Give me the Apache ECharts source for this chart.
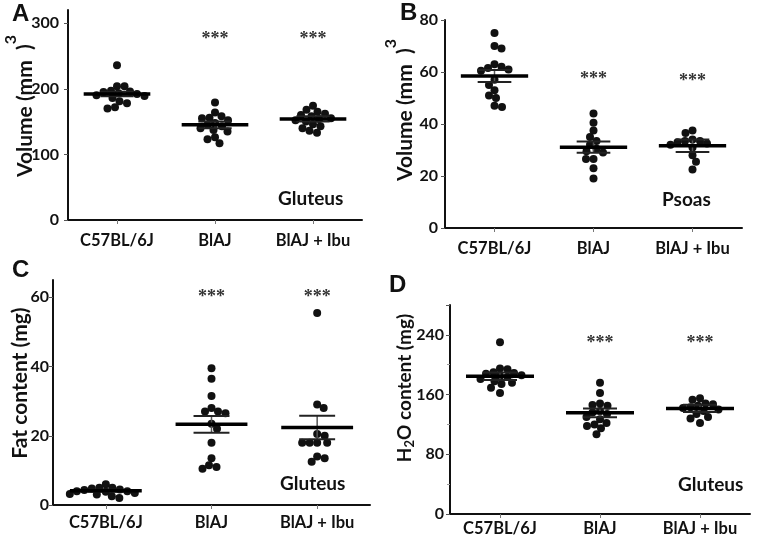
<!DOCTYPE html>
<html><head><meta charset="utf-8">
<script src="https://cdn.jsdelivr.net/npm/echarts@6/dist/echarts.min.js"></script>
<style>html,body{margin:0;padding:0;background:#fff}#c{width:764px;height:537px}</style>
</head><body><div id="c"></div>
<script>
// ---------- DATA ----------
const categories = ['C57BL/6J', 'BlAJ', 'BlAJ + Ibu'];

// Panel A: Gluteus volume (mm3)
const gluteusVolC57 = [236, 204, 204, 197, 196, 195, 193, 192, 190, 189, 186, 181, 178, 172, 170];
const gluteusVolBlAJ = [179, 164, 158, 156, 155, 152, 148, 145, 143, 140, 137, 135, 126, 123, 117];
const gluteusVolIbu = [174, 168, 165, 162, 160, 158, 155, 154, 152, 150, 146, 143, 140, 136, 133];
const gluteusVolMean = [192, 145, 154];
const gluteusVolSem = [3.5, 5, 4];
const gluteusVolStars = [null, 275, 275];

// Panel B: Psoas volume (mm3)
const psoasVolC57 = [75, 70, 69, 63, 62, 61.5, 61, 60.5, 57, 55, 53, 51, 50, 47, 46.5];
const psoasVolBlAJ = [44, 40.5, 37.5, 35, 33.5, 32, 30.5, 29.5, 29, 26.5, 26.5, 23, 19];
const psoasVolIbu = [37.5, 36.5, 34, 33.5, 33.5, 33, 32.5, 32, 31, 28, 25.5, 22.5];
const psoasVolMean = [58.5, 31.1, 31.6];
const psoasVolSem = [2.3, 2.2, 2.4];
const psoasVolStars = [null, 57, 56.5];

// Panel C: Gluteus fat content (mg)
const fatC57 = [6, 5, 5, 4.8, 4.5, 4.3, 4, 4, 3.8, 3.5, 3.2, 3, 2.5, 2];
const fatBlAJ = [39.5, 36.5, 31.5, 28, 27, 27, 26.5, 23.5, 22, 18, 13.5, 11.5, 11, 10.5];
const fatIbu = [55.5, 29, 28, 20.5, 20, 18, 18, 18, 18, 14, 13.5, 12.5];
const fatMean = [4.1, 23.3, 22.4];
const fatSem = [0.3, 2.4, 3.4];
const fatStars = [null, 60, 60];

// Panel D: Gluteus H2O content (mg)
const waterC57 = [230, 195, 194, 190, 189, 188, 186, 185, 184, 181, 178, 176, 174, 169, 162];
const waterBlAJ = [176, 162, 148, 146, 145, 138, 136, 134, 130, 127, 122, 120, 118, 115, 107];
const waterIbu = [155, 153, 148, 147, 145, 143, 142, 140, 138, 134, 130, 128, 122];
const waterMean = [184.5, 135.5, 141.5];
const waterSem = [5, 6, 5];
const waterStars = [null, 228, 228];

// axis ranges / tick steps
const yMax = [320, 80, 65, 280];
const yStep = [100, 20, 20, 80];

// ---------- LAYOUT ----------
const FONT = 'Lato';
const panels = [
  {groups: [gluteusVolC57, gluteusVolBlAJ, gluteusVolIbu], mean: gluteusVolMean, sem: gluteusVolSem, stars: gluteusVolStars,
   grid: {left: 68, top: 10, width: 294, height: 210}, labelMargin: 9, xMargin: 12, minor: false},
  {groups: [psoasVolC57, psoasVolBlAJ, psoasVolIbu], mean: psoasVolMean, sem: psoasVolSem, stars: psoasVolStars,
   grid: {left: 445, top: 20, width: 297, height: 208}, labelMargin: 7, xMargin: 12, minor: false},
  {groups: [fatC57, fatBlAJ, fatIbu], mean: fatMean, sem: fatSem, stars: fatStars,
   grid: {left: 53, top: 280, width: 317, height: 225}, labelMargin: 4, xMargin: 9, minor: false},
  {groups: [waterC57, waterBlAJ, waterIbu], mean: waterMean, sem: waterSem, stars: waterStars,
   grid: {left: 450, top: 305, width: 300, height: 210}, labelMargin: 6, xMargin: 6, minor: true}
];

// rotated y-axis titles: parts = [text, fontSize, perpendicular offset]
const yTitles = [
  {x: 25, y: 106, parts: [['Volume (mm  )', 21, 0], ['3', 16, -14]]},
  {x: 405, y: 110, parts: [['Volume (mm  )', 21, 0], ['3', 16, -14]]},
  {x: 20, y: 383, parts: [['Fat content (mg)', 21, 0]]},
  {x: 405, y: 388, parts: [['H', 19, 0], ['2', 13, 5], ['O content (mg)', 19, 0]]}
];

const chart = echarts.init(document.getElementById('c'), null, {renderer: 'canvas'});

const measureCtx = document.createElement('canvas').getContext('2d');
function textW(t, size) { measureCtx.font = 'bold ' + size + 'px ' + FONT; return measureCtx.measureText(t).width; }

function titleGraphic(tt) {
  const total = tt.parts.reduce((s, p) => s + textW(p[0], p[1]), 0);
  let cur = -total / 2;
  const children = tt.parts.map(p => {
    const el = {type: 'text', x: cur, y: p[2], style: {text: p[0], font: 'bold ' + p[1] + 'px ' + FONT, fill: '#111', align: 'left', verticalAlign: 'middle'}};
    cur += textW(p[0], p[1]);
    return el;
  });
  return {type: 'group', x: tt.x, y: tt.y, rotation: Math.PI / 2, children: children};
}

const grids = [], xAxes = [], yAxes = [];
panels.forEach((p, gi) => {
  grids.push(p.grid);
  xAxes.push({
    type: 'category', gridIndex: gi, data: categories, boundaryGap: true,
    axisLine: {lineStyle: {color: '#111', width: 2}},
    axisTick: {show: true, alignWithLabel: true, length: 4, lineStyle: {color: '#777', width: 1}},
    axisLabel: {color: '#111', fontFamily: FONT, fontWeight: 'bold', fontSize: 16.5, margin: p.xMargin, interval: 0},
    splitLine: {show: false}
  });
  xAxes.push({
    type: 'value', gridIndex: gi, min: -0.5, max: 2.5, show: false, splitLine: {show: false}
  });
  yAxes.push({
    type: 'value', gridIndex: gi, min: 0, max: yMax[gi], interval: yStep[gi],
    axisLine: {show: true, onZero: false, lineStyle: {color: '#111', width: 2}},
    axisTick: {show: true, length: 4, lineStyle: {color: '#555', width: 1}},
    minorTick: {show: p.minor, splitNumber: 2, length: 3, lineStyle: {color: '#999', width: 1}},
    splitLine: {show: false},
    axisLabel: {color: '#111', fontFamily: FONT, fontWeight: 'bold', fontSize: 16, margin: p.labelMargin,
      showMaxLabel: yMax[gi] % yStep[gi] === 0}
  });
});

const graphics = [
  {type: 'text', left: 12, top: 2, style: {text: 'A', font: 'bold 24px "Liberation Sans"', fill: '#111'}},
  {type: 'text', left: 400, top: 1, style: {text: 'B', font: 'bold 24px "Liberation Sans"', fill: '#111'}},
  {type: 'text', left: 12, top: 258, style: {text: 'C', font: 'bold 24px "Liberation Sans"', fill: '#111'}},
  {type: 'text', left: 389, top: 273, style: {text: 'D', font: 'bold 24px "Liberation Sans"', fill: '#111'}},
  {type: 'text', left: 278, top: 189, style: {text: 'Gluteus', font: 'bold 19px ' + FONT, fill: '#111'}},
  {type: 'text', left: 662, top: 190, style: {text: 'Psoas', font: 'bold 19px ' + FONT, fill: '#111'}},
  {type: 'text', left: 280, top: 474, style: {text: 'Gluteus', font: 'bold 19px ' + FONT, fill: '#111'}},
  {type: 'text', left: 678, top: 475, style: {text: 'Gluteus', font: 'bold 19px ' + FONT, fill: '#111'}}
].concat(yTitles.map(titleGraphic));

chart.setOption({
  animation: false,
  backgroundColor: '#fff',
  grid: grids, xAxis: xAxes, yAxis: yAxes, graphic: graphics, series: []
});

// ---------- beeswarm layout of the dots (computed through the axes) ----------
const R = 4;
function swarm(vals, gi, groupIndex) {
  const xa = gi * 2 + 1;
  const band = chart.convertToPixel({xAxisIndex: xa}, 1) - chart.convertToPixel({xAxisIndex: xa}, 0);
  const pts = vals.map(v => ({v: v, y: chart.convertToPixel({yAxisIndex: gi}, v), x: 0}));
  const order = pts.slice().sort((a, b) => a.y - b.y);
  const placed = [];
  order.forEach((p, idx) => {
    const sign = idx % 2 ? -1 : 1;
    for (let step = 0; step < 400; step++) {
      const cand = step === 0 ? 0 : sign * (step % 2 ? 1 : -1) * Math.ceil(step / 2) * 0.5;
      if (placed.every(q => Math.hypot(q.x - cand, q.y - p.y) >= 2 * R * 0.92)) { p.x = cand; break; }
    }
    placed.push(p);
  });
  return pts.map(p => [groupIndex + p.x / band, p.v]);
}

const series = [];
panels.forEach((p, gi) => {
  const data = [];
  p.groups.forEach((vals, k) => { swarm(vals, gi, k).forEach(d => data.push(d)); });
  series.push({
    type: 'scatter', xAxisIndex: gi * 2 + 1, yAxisIndex: gi, data: data,
    symbol: 'circle', symbolSize: 2 * R, itemStyle: {color: '#111', opacity: 1}, z: 2
  });
  series.push({
    type: 'custom', xAxisIndex: gi * 2 + 1, yAxisIndex: gi, z: 5,
    data: p.mean.map((m, i) => [i, m, p.sem[i]]),
    renderItem: function (params, api) {
      const i = api.value(0), m = api.value(1), s = api.value(2);
      const c = api.coord([i, m]), hi = api.coord([i, m + s]), lo = api.coord([i, m - s]);
      const band = api.size([1, 0])[0];
      const hw = band * 0.34, sw = band * 0.17;
      return {type: 'group', children: [
        {type: 'line', shape: {x1: c[0], y1: hi[1], x2: c[0], y2: lo[1]}, style: {stroke: '#555', lineWidth: 1.5}},
        {type: 'line', shape: {x1: c[0] - sw, y1: hi[1], x2: c[0] + sw, y2: hi[1]}, style: {stroke: '#222', lineWidth: 2}},
        {type: 'line', shape: {x1: c[0] - sw, y1: lo[1], x2: c[0] + sw, y2: lo[1]}, style: {stroke: '#222', lineWidth: 2}},
        {type: 'line', shape: {x1: c[0] - hw, y1: c[1], x2: c[0] + hw, y2: c[1]}, style: {stroke: '#000', lineWidth: 3.5}}
      ]};
    }
  });
  series.push({
    type: 'custom', xAxisIndex: gi * 2 + 1, yAxisIndex: gi, z: 6,
    data: p.stars.map((v, i) => [i, v]).filter(d => d[1] != null),
    renderItem: function (params, api) {
      const c = api.coord([api.value(0), api.value(1)]);
      return {type: 'text', x: c[0], y: c[1], style: {text: '***', font: 'bold 18px "Liberation Serif"', fill: '#333', align: 'center', verticalAlign: 'middle'}};
    }
  });
});

chart.setOption({series: series});
</script>
</body></html>
